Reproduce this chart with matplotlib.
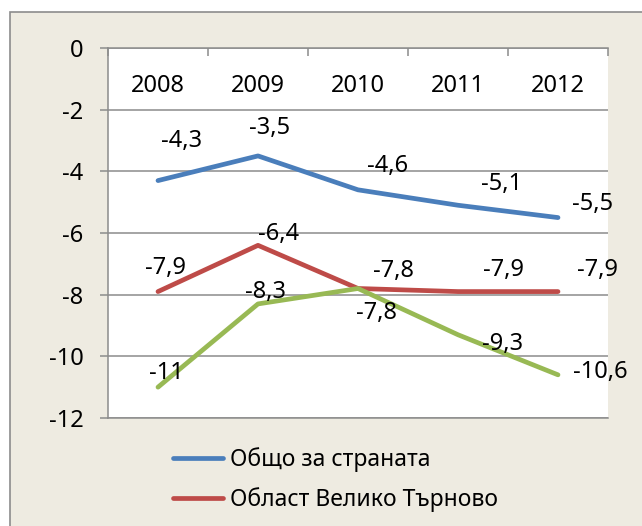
import matplotlib
matplotlib.use("Agg")
import matplotlib.pyplot as plt
from matplotlib.patches import Rectangle
from matplotlib.lines import Line2D

# data
years = ['2008', '2009', '2010', '2011', '2012']
country = [-4.3, -3.5, -4.6, -5.1, -5.5]
region = [-7.9, -6.4, -7.8, -7.9, -7.9]
third = [-11, -8.3, -7.8, -9.3, -10.6]
legend_labels = ['Общо за страната', 'Област Велико Търново']

# label offsets in pixels (dx, dy), placed by hand in the original
off_country = [(24, 40), (12, 28), (30, 24), (44, 21), (35, 14)]
off_region = [(8, 24), (21, 11), (35, 18), (45, 22), (40, 22)]
off_third = [(8, 14), (8, 12), (18, -25), (45, -9), (42, 3)]

plt.rcParams['font.family'] = ['Noto Sans', 'DejaVu Sans']
plt.rcParams['axes.unicode_minus'] = False

W, H = 642, 526
fig = plt.figure(figsize=(W / 100, H / 100), dpi=100)
fig.patch.set_facecolor('white')

# beige chart area with border on left/top
bg = Rectangle((10 / W, -0.1), 1.2, 1 - 12 / H + 0.1,
               transform=fig.transFigure, facecolor='#EEEBE1',
               edgecolor='#8C8C8C', linewidth=1.2, zorder=-5)
fig.add_artist(bg)

ax = fig.add_axes([108 / W, 1 - 418 / H, 500 / W, 370 / H])
ax.set_zorder(2)
ax.set_facecolor('white')

grid = '#8C8C8C'
fs = 17
x = range(len(years))
series = [(country, '#4A7EBB', off_country),
          (region, '#BE4B48', off_region),
          (third, '#98B954', off_third)]
for vals, col, offs in series:
    ax.plot(x, vals, color=col, linewidth=3.4, solid_capstyle='round',
            solid_joinstyle='round', zorder=3)
    for xi, v, (dx, dy) in zip(x, vals, offs):
        txt = ('%g' % v).replace('.', ',')
        ax.annotate(txt, (xi, v), xytext=(dx * 0.72, dy * 0.72),
                    textcoords='offset points', ha='center', va='center',
                    fontsize=fs, zorder=4)

ax.set_xlim(-0.5, 4.5)
ax.set_ylim(-12, 0)
ax.set_yticks(range(-12, 1, 2))
ax.set_yticklabels([str(v) for v in range(-12, 1, 2)], fontsize=fs)
ax.yaxis.grid(True, color=grid, linewidth=1.1)
ax.set_axisbelow(True)
ax.tick_params(axis='y', length=5.8, width=1.1, color=grid, pad=12)

ax.set_xticks(list(x))
ax.set_xticklabels(years, fontsize=fs)
ax.set_xticks([i - 0.5 for i in range(len(years) + 1)], minor=True)
ax.tick_params(axis='x', which='major', bottom=False, top=False,
               labelbottom=False, labeltop=True, pad=-31)
ax.tick_params(axis='x', which='minor', bottom=False, top=True,
               direction='in', length=5.5, width=1.1, color=grid)
for lab in ax.get_xticklabels():
    lab.set_va('center')

for s in ['left', 'top', 'bottom']:
    ax.spines[s].set_color(grid)
    ax.spines[s].set_linewidth(1.1)
ax.spines['right'].set_visible(False)

handles = [Line2D([], [], color='#4A7EBB', linewidth=3.4, solid_capstyle='round'),
           Line2D([], [], color='#BE4B48', linewidth=3.4, solid_capstyle='round')]
fig.legend(handles, legend_labels, loc='upper left',
           bbox_to_anchor=(152 / W, 1 - 427 / H), frameon=False,
           fontsize=16.5, handlelength=2.2, handletextpad=0.3, labelspacing=0.65)

fig.savefig('out.png', dpi=100)
